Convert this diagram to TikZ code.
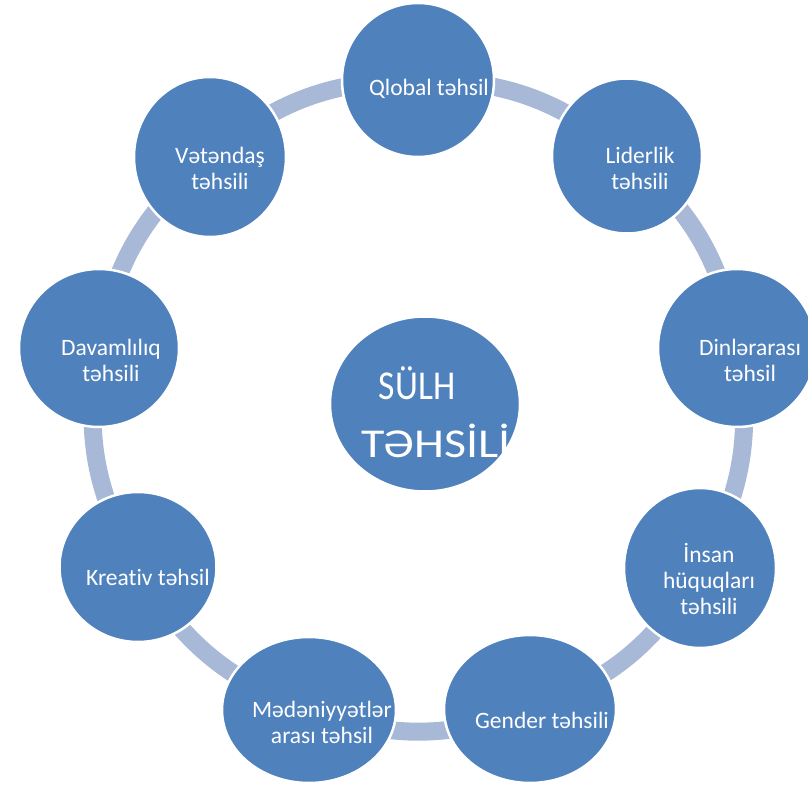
\documentclass[tikz,border=0pt]{standalone}
\usepackage{fontspec}
\usepackage{graphicx}
\setmainfont{Carlito}[Ligatures=NoCommon]
\usetikzlibrary{shapes.geometric,backgrounds}
\definecolor{bubble}{RGB}{79,129,189}
\definecolor{ringc}{RGB}{168,184,215}
\tikzset{
  bub/.style={ellipse, fill=bubble, draw=white, line width=2.5pt, inner sep=0pt},
  txt/.style={text=white, align=center, font=\fontsize{23.5}{26}\selectfont, inner sep=0pt},
  big/.style={text=white, font=\fontsize{41}{48}\selectfont, inner sep=0pt, anchor=base},
  conn/.style={draw=ringc, line width=18pt},
}
\begin{document}
\begin{tikzpicture}[x=1pt,y=1pt]
\useasboundingbox (0,0) rectangle (808,785);
% outer bubbles
\node[bub, minimum width=152, minimum height=154] (c1) at (418,705) {};
\node[bub, minimum width=150, minimum height=155] (c2) at (627,629) {};
\node[bub, minimum width=158, minimum height=158] (c3) at (737,437) {};
\node[bub, minimum width=152, minimum height=160] (c4) at (700,217) {};
\node[bub, minimum width=172, minimum height=148] (c5) at (530,76) {};
\node[bub, minimum width=174, minimum height=146] (c6) at (309,75) {};
\node[bub, minimum width=157, minimum height=150] (c7) at (138,218) {};
\node[bub, minimum width=160, minimum height=158] (c8) at (99,437) {};
\node[bub, minimum width=152, minimum height=160] (c9) at (210,628) {};
% centre bubble
\node[bub, minimum width=190, minimum height=175] (c0) at (425,381) {};
% connectors
\begin{pgfonlayer}{background}
\draw[conn] (c1.center) to[bend left=20] (c2.center);
\draw[conn] (c2.center) to[bend left=20] (c3.center);
\draw[conn] (c3.center) to[bend left=20] (c4.center);
\draw[conn] (c4.center) to[bend left=20] (c5.center);
\draw[conn] (c5.center) to[bend left=20] (c6.center);
\draw[conn] (c6.center) to[bend left=20] (c7.center);
\draw[conn] (c7.center) to[bend left=20] (c8.center);
\draw[conn] (c8.center) to[bend left=20] (c9.center);
\draw[conn] (c9.center) to[bend left=20] (c1.center);
\end{pgfonlayer}
% labels
\node[txt] (t1) at ([shift={(11,-9)}]c1.center) {Qlobal təhsil};
\node[txt] (t2) at ([shift={(13,-12)}]c2.center) {Liderlik\\təhsili};
\node[txt] (t3) at ([shift={(13,-12)}]c3.center) {Dinlərarası\\təhsil};
\node[txt] (t4) at ([shift={(9,-11)}]c4.center) {İnsan\\hüquqları\\təhsili};
\node[txt] (t5) at ([shift={(12,-11)}]c5.center) {Gender təhsili};
\node[txt] (t6) at ([shift={(13,-12)}]c6.center) {Mədəniyyətlər\\arası təhsil};
\node[txt] (t7) at ([shift={(10,-10)}]c7.center) {Kreativ təhsil};
\node[txt] (t8) at ([shift={(12,-12)}]c8.center) {Davamlılıq\\təhsili};
\node[txt] (t9) at ([shift={(10,-11)}]c9.center) {Vətəndaş\\təhsili};
\node[big] (s1) at (417,385) {\scalebox{0.87}[1]{SÜLH}};
\node[big] (s2) at (436,327) {\scalebox{1.17}[1]{TƏHSİLİ}};
\end{tikzpicture}
\end{document}
